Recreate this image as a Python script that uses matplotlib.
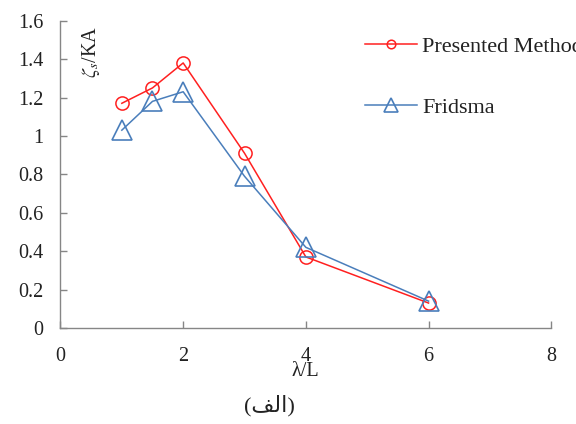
import numpy as np
import matplotlib
matplotlib.use('Agg')
import matplotlib.pyplot as plt

# data
wave_ratio = [1, 1.5, 2, 3, 4, 6]
presented = [1.17, 1.25, 1.38, 0.91, 0.37, 0.13]
fridsma = [1.03, 1.18, 1.23, 0.79, 0.42, 0.14]
xticks = [0, 2, 4, 6, 8]
yticks = [0, 0.2, 0.4, 0.6, 0.8, 1, 1.2, 1.4, 1.6]
yticklabels = ['0', '0.2', '0.4', '0.6', '0.8', '1', '1.2', '1.4', '1.6']

plt.rcParams['font.family'] = ['Liberation Serif', 'DejaVu Sans']
plt.rcParams['mathtext.fontset'] = 'stix'

red = '#ff2020'
blue = '#4a7ebb'
grey = '#868686'

fig = plt.figure(figsize=(5.76, 4.24), dpi=100)
ax = fig.add_axes([0.105, 0.2264, 0.852, 0.7248])

ax.plot(wave_ratio, presented, '-o', color=red, mfc='none', mec=red,
        ms=9.5, mew=1.1, lw=1.1, label='Presented Method')
ax.plot(wave_ratio, fridsma, '-^', color=blue, mfc='none', mec=blue,
        ms=14.5, mew=1.2, lw=1.1, label='Fridsma')

ax.set_xlim(0, 8)
ax.set_ylim(0, 1.6)
ax.set_xticks(xticks)
ax.set_yticks(yticks)
ax.set_yticklabels(yticklabels)

for s in ['top', 'right']:
    ax.spines[s].set_visible(False)
for s in ['left', 'bottom']:
    ax.spines[s].set_color(grey)
    ax.spines[s].set_linewidth(1.0)
ax.tick_params(axis='both', direction='in', length=5, width=1.0, color=grey,
               labelsize=14.5, labelcolor='#222222')
ax.tick_params(axis='y', pad=12.5)
ax.tick_params(axis='x', pad=14)

ax.text(0.5, 1.575, r'$\zeta_s$/KA', rotation=90, ha='center', va='top',
        fontsize=14.5, color='#222222')

fig.text(305/576, 1-372/424, 'λ/L', ha='center', va='center',
         fontsize=14.5, color='#222222')
# "(الف)" in visual order with presentation forms
fig.text(269/576, 1-406/424, '(\uFED2\uFEDF\uFE8D)', ha='center', va='center',
         fontsize=16, color='#222222')

leg = fig.legend(loc='upper left', bbox_to_anchor=(365/576, 1-36/424),
                 frameon=False, fontsize=16, labelspacing=1.84,
                 handlelength=2.34, handletextpad=0.22, borderpad=0,
                 borderaxespad=0, markerscale=0.65)
for t in leg.get_texts():
    t.set_color('#222222')

plt.savefig('out.png', dpi=100)
